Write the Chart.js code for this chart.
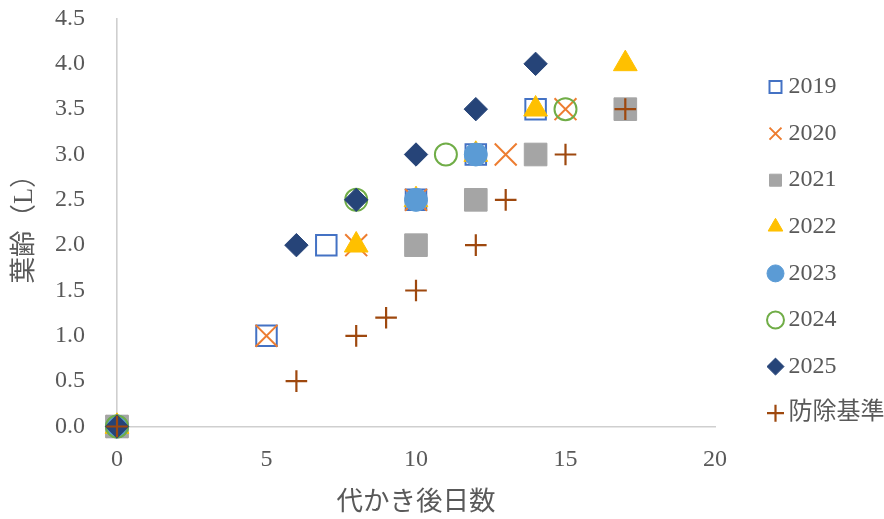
<!DOCTYPE html>
<html>
<head>
<meta charset="utf-8">
<script src="https://cdn.jsdelivr.net/npm/chart.js@4.4.1/dist/chart.umd.min.js"></script>
<style>
  html, body { margin: 0; padding: 0; background: #ffffff; }
  #wrap { width: 884px; height: 519px; }
</style>
</head>
<body>
<div id="wrap"><canvas id="c" width="884" height="519"></canvas></div>
<script>
// ---- data ----
const seriesNames = ['2019', '2020', '2021', '2022', '2023', '2024', '2025', '防除基準'];

const days2019 = [0, 5, 7, 10, 12, 14];
const leaf2019 = [0, 1.0, 2.0, 2.5, 3.0, 3.5];

const days2020 = [0, 5, 8, 10, 13, 15];
const leaf2020 = [0, 1.0, 2.0, 2.5, 3.0, 3.5];

const days2021 = [0, 10, 12, 14, 17];
const leaf2021 = [0, 2.0, 2.5, 3.0, 3.5];

const days2022 = [0, 8, 10, 12, 14, 17];
const leaf2022 = [0, 2.0, 2.5, 3.0, 3.5, 4.0];

const days2023 = [0, 10, 12];
const leaf2023 = [0, 2.5, 3.0];

const days2024 = [0, 8, 11, 15];
const leaf2024 = [0, 2.5, 3.0, 3.5];

const days2025 = [0, 6, 8, 10, 12, 14];
const leaf2025 = [0, 2.0, 2.5, 3.0, 3.5, 4.0];

const daysStd = [0, 6, 8, 9, 10, 12, 13, 15, 17];
const leafStd = [0, 0.5, 1.0, 1.2, 1.5, 2.0, 2.5, 3.0, 3.5];

const xTicks = [0, 5, 10, 15, 20];
const yTicks = [0, 0.5, 1.0, 1.5, 2.0, 2.5, 3.0, 3.5, 4.0, 4.5];

const xTitle = '代かき後日数';
const yTitle = '葉齢（L）';

// ---- build ----
function pts(xs, ys) { return xs.map((x, i) => ({ x: x, y: ys[i] })); }

const styles = [
  { pointStyle: 'rect',     radius: 14.5, bg: 'rgba(0,0,0,0)', bc: '#4472C4', bw: 2 },
  { pointStyle: 'crossRot', radius: 15.5, bg: '#ED7D31',       bc: '#ED7D31', bw: 2 },
  { pointStyle: 'rect',     radius: 16,   bg: '#A5A5A5',       bc: '#A5A5A5', bw: 1 },
  { pointStyle: 'triangle', radius: 13.7, bg: '#FFC000',       bc: '#FFC000', bw: 1 },
  { pointStyle: 'circle',   radius: 11.5, bg: '#5B9BD5',       bc: '#5B9BD5', bw: 1 },
  { pointStyle: 'circle',   radius: 11,   bg: 'rgba(0,0,0,0)', bc: '#70AD47', bw: 2 },
  { pointStyle: 'rectRot',  radius: 11.7, bg: '#264478',       bc: '#264478', bw: 1 },
  { pointStyle: 'cross',    radius: 10.8, bg: '#9E480E',       bc: '#9E480E', bw: 2.2 }
];
const dataSets = [
  pts(days2019, leaf2019), pts(days2020, leaf2020), pts(days2021, leaf2021), pts(days2022, leaf2022),
  pts(days2023, leaf2023), pts(days2024, leaf2024), pts(days2025, leaf2025), pts(daysStd, leafStd)
];

const datasets = seriesNames.map((name, i) => ({
  label: name,
  data: dataSets[i],
  pointStyle: styles[i].pointStyle,
  pointRadius: styles[i].radius,
  pointHoverRadius: styles[i].radius,
  backgroundColor: styles[i].bg,
  borderColor: styles[i].bc,
  borderWidth: styles[i].bw,
  pointBorderWidth: styles[i].bw,
  showLine: false,
  clip: false,
  order: seriesNames.length - i   // later series drawn on top (as in the reference)
}));

const FONT = "'Liberation Serif', 'Noto Sans CJK JP', serif";
const TXT = '#595959';
const AXIS = '#cfcfcf';

new Chart(document.getElementById('c'), {
  type: 'scatter',
  data: { datasets: datasets },
  options: {
    responsive: false,
    animation: false,
    events: [],
    layout: { padding: { top: 18.5, left: 0, right: 0, bottom: 0 } },
    plugins: {
      tooltip: { enabled: false },
      legend: {
        position: 'right',
        align: 'start',
        maxWidth: 132.1,
        title: { display: true, text: '', font: { size: 10, lineHeight: 1 }, padding: { top: 23.9, bottom: 0 } },
        labels: {
          usePointStyle: true,
          boxWidth: 2,
          boxHeight: 12,
          padding: 22.6,
          color: TXT,
          font: { family: FONT, size: 24 },
          sort: (a, b) => a.datasetIndex - b.datasetIndex
        }
      }
    },
    scales: {
      x: {
        type: 'linear',
        position: 'bottom',
        min: 0, max: 20,
        afterBuildTicks: (s) => { s.ticks = xTicks.map(v => ({ value: v })); },
        grid: { display: false },
        border: { display: true, color: AXIS, width: 1.6 },
        ticks: { color: TXT, padding: 11, font: { family: FONT, size: 24 }, maxRotation: 0 },
        title: { display: true, text: xTitle, color: TXT, font: { family: FONT, size: 26.5 }, padding: { top: 0, bottom: 0 } },
        afterFit: (s) => { s.height = 92.5; }
      },
      y: {
        type: 'linear',
        position: 'left',
        min: 0, max: 4.5,
        afterBuildTicks: (s) => { s.ticks = yTicks.map(v => ({ value: v })); },
        grid: { display: true, drawOnChartArea: false, drawTicks: true, tickLength: 28, tickColor: 'rgba(0,0,0,0)' },
        border: { display: true, color: AXIS, width: 1.6 },
        ticks: { color: TXT, padding: 4, font: { family: FONT, size: 24 }, callback: (v) => Number(v).toFixed(1) },
        title: { display: true, text: yTitle, color: TXT, font: { family: FONT, size: 26.5 }, padding: { top: 9, bottom: 0 } },
        afterFit: (s) => { s.width = 117; }
      },
      gap: {
        type: 'linear',
        position: 'right',
        display: true,
        grid: { display: false },
        border: { display: false },
        ticks: { display: false },
        afterFit: (s) => { s.width = 36.9; }
      }
    }
  }
});
</script>
</body>
</html>
